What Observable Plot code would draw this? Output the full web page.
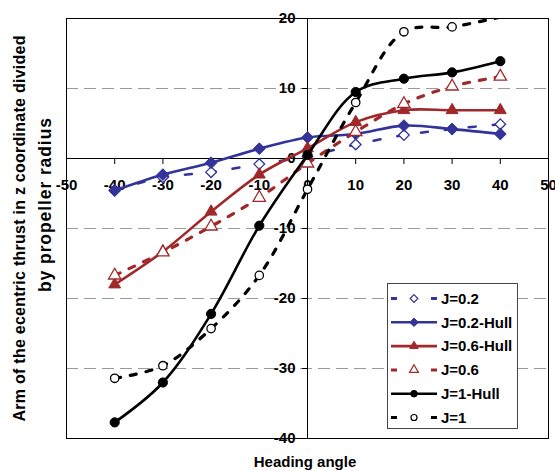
<!DOCTYPE html>
<html><head><meta charset="utf-8">
<script src="https://cdn.jsdelivr.net/npm/d3@7"></script>
<script src="https://cdn.jsdelivr.net/npm/@observablehq/plot@0.6"></script>
<style>
body{margin:0;background:#fff;}
#wrap{position:relative;width:555px;height:471px;font-family:"Liberation Sans",Arial,sans-serif;}
#overlay{position:absolute;left:0;top:0;pointer-events:none;}
</style></head><body><div id="wrap"></div>
<script>
// ---- data ----
const angles = [-40, -30, -20, -10, 0, 10, 20, 30, 40];
const seriesNames = ["J=0.2", "J=0.2-Hull", "J=0.6-Hull", "J=0.6", "J=1-Hull", "J=1"];
const j02     = [-4.5, -2.7, -1.95, -0.8, 0.3, 2.0, 3.35, 4.2, 4.9];
const j02Hull = [-4.6, -2.3, -0.6, 1.4, 3.0, 3.5, 4.7, 4.2, 3.5];
const j06Hull = [-18.0, -13.3, -7.6, -2.3, 1.45, 5.2, 6.9, 6.9, 6.9];
const j06     = [-16.7, -13.4, -9.7, -5.6, -0.7, 3.8, 7.8, 10.3, 11.7];
const j1Hull  = [-37.7, -32.0, -22.2, -9.6, 0.5, 9.5, 11.4, 12.3, 13.9];
const j1      = [-31.4, -29.6, -24.3, -16.7, -4.4, 8.0, 18.1, 18.8, 20.2];
const xTicks = [-50, -40, -30, -20, -10, 0, 10, 20, 30, 40, 50];
const yTicks = [20, 10, 0, -10, -20, -30, -40];
const gridValues = [10, -10, -20, -30];
const xTitle = "Heading angle";
const yTitle = ["Arm of the ecentric thrust in z coordinate divided", "by propeller radius"];

// ---- styles ----
const NAVY = "#333399", RED = "#A0282A", BLACK = "#000";
const seriesValues = [j02, j02Hull, j06Hull, j06, j1Hull, j1];
const styles = [
  {color: NAVY, dash: "7,17", width: 2.5, symbol: "diamond2", open: true, r: 4.8},
  {color: NAVY, dash: null, width: 2.6, symbol: "diamond2", open: false, r: 5.3},
  {color: RED, dash: null, width: 2.6, symbol: "triangle", open: false, r: 4.4},
  {color: RED, dash: "6,10", width: 3.2, symbol: "triangle", open: true, r: 4.6},
  {color: BLACK, dash: null, width: 2.6, symbol: "circle", open: false, r: 4.6},
  {color: BLACK, dash: "6,10", width: 3.2, symbol: "circle", open: true, r: 4.2}
];

const W = 555, H = 471;
const M = {top: 18, right: 7, bottom: 33, left: 66};
const yDom = [-40, 20], xDom = [-50, 50];
const pxY = (yDom[1] - yDom[0]) / (H - M.top - M.bottom);
const pxX = (xDom[1] - xDom[0]) / (W - M.left - M.right);

const marks = [
  Plot.ruleY(gridValues, {stroke: "#9a9a9a", strokeWidth: 1, strokeDasharray: "12,6"}),
  Plot.ruleY([0], {stroke: "#000", strokeWidth: 1}),
  Plot.ruleX([0], {stroke: "#000", strokeWidth: 1}),
  Plot.ruleX(xTicks, {x: d => d, y1: 0, y2: -6 * pxY, stroke: "#000"}),
  Plot.ruleY(yTicks, {y: d => d, x1: 0, x2: -5 * pxX, stroke: "#000"}),
  Plot.text(xTicks, {x: d => d, y: 0, dy: 27, text: d => String(d), fontSize: 15, fontWeight: "bold", fill: "#000"}),
  Plot.text(yTicks, {x: 0, y: d => d, dx: -12, textAnchor: "end", text: d => String(d), fontSize: 15, fontWeight: "bold", fill: "#000"})
];

seriesNames.forEach((name, i) => {
  const s = styles[i];
  const rows = angles.map((a, k) => ({series: name, angle: a, value: seriesValues[i][k]}));
  marks.push(Plot.line(rows, {x: "angle", y: "value", stroke: s.color, strokeWidth: s.width,
    strokeDasharray: s.dash || undefined, curve: "catmull-rom", clip: true}));
  marks.push(Plot.dot(rows.filter(d => d.value <= yDom[1]), {x: "angle", y: "value", symbol: () => s.symbol, r: s.r,
    fill: s.open ? "#fff" : s.color, stroke: s.color, strokeWidth: s.open ? 1.3 : 1}));
});
marks.push(Plot.frame({stroke: "#000", strokeWidth: 1}));

const chart = Plot.plot({
  width: W, height: H,
  marginTop: M.top, marginRight: M.right, marginBottom: M.bottom, marginLeft: M.left,
  x: {domain: xDom, axis: null},
  y: {domain: yDom, axis: null},
  symbol: {type: "identity"},
  style: {fontFamily: '"Liberation Sans", Arial, sans-serif', background: "#fff", overflow: "visible"},
  marks
});
const wrap = document.getElementById("wrap");
wrap.appendChild(chart);

// ---- overlay: axis titles and legend ----
const ov = d3.select(wrap).append("svg").attr("id", "overlay").attr("width", W).attr("height", H)
  .style("font-family", '"Liberation Sans", Arial, sans-serif').style("font-weight", "bold");

ov.append("text").attr("x", 305).attr("y", 467).attr("text-anchor", "middle").attr("font-size", 15).text(xTitle);
ov.append("text").attr("transform", "translate(25,228.5) rotate(-90)").attr("text-anchor", "middle")
  .attr("font-size", 16).attr("textLength", 386).attr("lengthAdjust", "spacing").text(yTitle[0]);
ov.append("text").attr("transform", "translate(51,205) rotate(-90)").attr("text-anchor", "middle")
  .attr("font-size", 17.5).attr("textLength", 174).attr("lengthAdjust", "spacing").text(yTitle[1]);

const lg = {x: 387, y: 283, w: 130, h: 145, first: 298.5, step: 23.8};
ov.append("rect").attr("x", lg.x + 0.5).attr("y", lg.y + 0.5).attr("width", lg.w).attr("height", lg.h)
  .attr("fill", "#fff").attr("stroke", "#444").attr("stroke-width", 1);
const symMap = {diamond2: d3.symbolDiamond2, triangle: d3.symbolTriangle, circle: d3.symbolCircle};
seriesNames.forEach((name, i) => {
  const s = styles[i];
  const cy = lg.first + i * lg.step;
  ov.append("line").attr("x1", 391).attr("x2", 437).attr("y1", cy).attr("y2", cy)
    .attr("stroke", s.color).attr("stroke-width", s.dash ? 3 : 2.6)
    .attr("stroke-dasharray", s.dash ? "6,34" : null);
  const rr = s.r * 0.72;
  ov.append("path").attr("d", d3.symbol(symMap[s.symbol], Math.PI * rr * rr)())
    .attr("transform", `translate(414,${cy})`)
    .attr("fill", s.open ? "#fff" : s.color).attr("stroke", s.color).attr("stroke-width", s.open ? 1.2 : 1);
  ov.append("text").attr("x", 441).attr("y", cy + 5.3).attr("font-size", 15).text(name);
});
</script></body></html>
